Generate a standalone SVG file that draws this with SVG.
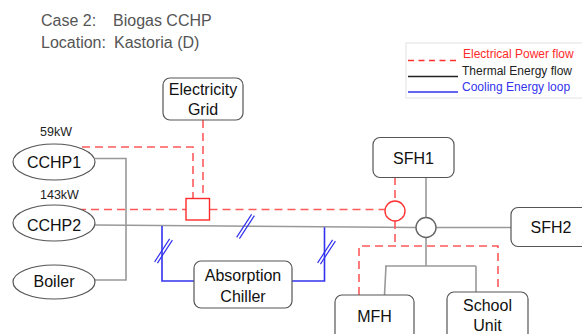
<svg xmlns="http://www.w3.org/2000/svg" width="582" height="334" viewBox="0 0 582 334">
<style>
text{font-family:"Liberation Sans",Arial,sans-serif}
.title{font-size:16px;fill:#555}
.lbl{font-size:16px;fill:#111;text-anchor:middle}
.kw{font-size:12.5px;fill:#222}
.leg{font-size:12px}
.box{fill:#fff;stroke:#555;stroke-width:1.2}
.el{fill:none;stroke:#ff5a5a;stroke-width:1.6;stroke-dasharray:8 5}
.th{fill:none;stroke:#999;stroke-width:1.6}
.co{fill:none;stroke:#3333ee;stroke-width:1.6}
.sl{fill:none;stroke:#3333ee;stroke-width:1.2}
</style>
<rect width="582" height="334" fill="#fff"/>
<g id="title">
<text class="title" x="41" y="26">Case 2:</text>
<text class="title" x="113" y="26">Biogas CCHP</text>
<text class="title" x="41" y="48">Location:</text>
<text class="title" x="114" y="48">Kastoria (D)</text>
</g>
<g id="legend">
<rect x="406" y="43" width="190" height="55" fill="none" stroke="#e2e2e2" stroke-width="1"/>
<line x1="408" y1="60.5" x2="456" y2="60.5" stroke="#ff3030" stroke-width="1.6" stroke-dasharray="6 4.5"/>
<text class="leg" x="463" y="58" fill="#ff2a2a">Electrical Power flow</text>
<line x1="408" y1="76.5" x2="458" y2="76.5" stroke="#222" stroke-width="1.4"/>
<text class="leg" x="462" y="74.5" fill="#222">Thermal Energy flow</text>
<line x1="408" y1="92" x2="458" y2="92" stroke="#3333ee" stroke-width="1.4"/>
<text class="leg" x="462" y="91" fill="#3333ee">Cooling Energy loop</text>
</g>
<g id="connectors">
<path class="th" d="M95,158.5 H126 V280 H95"/>
<path class="th" d="M95,225 L416,227.5"/>
<path class="th" d="M426,177 V217.5"/>
<path class="th" d="M436,227.5 H511"/>
<path class="th" d="M426,237.5 V266 M385,266 H476 M386,266 L384.5,295 M476,266 V292"/>
<path class="co" d="M162,226 V281 H194"/>
<path class="co" d="M292,281 H324.5 V227.3"/>
<path class="sl" d="M154.6,261.9 L169.6,238.9 M157.4,263.1 L172.4,240.1"/>
<path class="sl" d="M236.6,237.4 L251.6,214.4 M239.4,238.6 L254.4,215.6"/>
<path class="sl" d="M317.6,262.9 L332.6,239.9 M320.4,264.1 L335.4,241.1"/>
<path class="el" d="M82,147 H193 V198.5"/>
<path class="el" d="M203,120 V198.5"/>
<path class="el" d="M78,209.5 H186"/>
<path class="el" d="M209.5,209.5 H385"/>
<path class="el" d="M395,177 V201"/>
<path class="el" d="M395,221 V246"/>
<path class="el" d="M359,295 V246 H498 V292"/>
</g>
<g id="cchp1">
<text class="kw" x="40" y="136">59kW</text>
<ellipse class="box" cx="54" cy="162" rx="41" ry="18"/>
<text class="lbl" x="54" y="167.5">CCHP1</text>
</g>
<g id="cchp2">
<text class="kw" x="40" y="199">143kW</text>
<ellipse class="box" cx="54" cy="223" rx="41" ry="18"/>
<text class="lbl" x="54" y="230.5">CCHP2</text>
</g>
<g id="boiler">
<ellipse class="box" cx="54" cy="282" rx="41" ry="17"/>
<text class="lbl" x="54" y="286.5">Boiler</text>
</g>
<g id="grid">
<rect class="box" x="163" y="78" width="80" height="42" rx="7"/>
<text class="lbl" x="203" y="95">Electricity</text>
<text class="lbl" x="203" y="115">Grid</text>
</g>
<g id="switch">
<rect x="186" y="198.5" width="23.5" height="21.5" fill="#fff" stroke="#ff2a2a" stroke-width="1.4"/>
</g>
<g id="chiller">
<rect class="box" x="194" y="261" width="98" height="47" rx="7"/>
<text class="lbl" x="243" y="281">Absorption</text>
<text class="lbl" x="243" y="301.5">Chiller</text>
</g>
<g id="sfh1">
<rect class="box" x="373" y="137.5" width="81" height="40" rx="7"/>
<text class="lbl" x="413.5" y="164">SFH1</text>
</g>
<g id="elnode">
<circle cx="395" cy="211" r="10" fill="#fff" stroke="#ff3333" stroke-width="1.4"/>
</g>
<g id="thnode">
<circle cx="426" cy="227.5" r="10" fill="#fff" stroke="#666" stroke-width="1.4"/>
</g>
<g id="sfh2">
<rect class="box" x="511" y="207.5" width="82" height="39" rx="7"/>
<text class="lbl" x="551" y="233">SFH2</text>
</g>
<g id="mfh">
<rect class="box" x="335" y="295" width="79" height="45" rx="7"/>
<text class="lbl" x="374.5" y="321.5">MFH</text>
</g>
<g id="school">
<rect class="box" x="447" y="292" width="81" height="48" rx="7"/>
<text class="lbl" x="487.5" y="311">School</text>
<text class="lbl" x="487.5" y="331">Unit</text>
</g>
</svg>
